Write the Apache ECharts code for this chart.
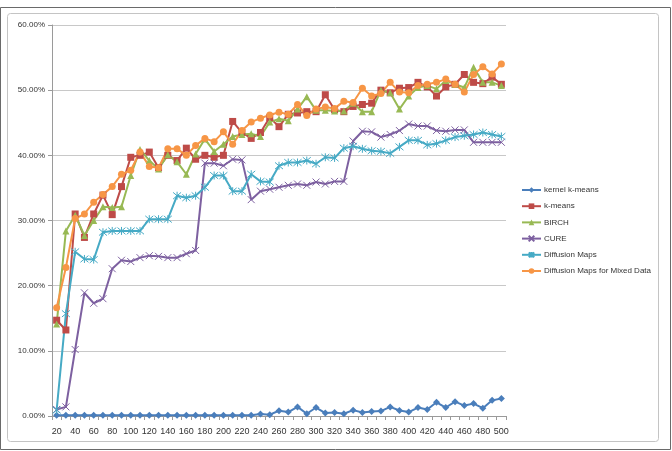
<!DOCTYPE html>
<html>
<head>
<meta charset="utf-8">
<script src="https://cdn.jsdelivr.net/npm/echarts@6/dist/echarts.min.js"></script>
<style>
  html, body { margin: 0; padding: 0; background: #fff; }
  #chart { width: 672px; height: 451px; }
</style>
</head>
<body>
<div id="chart"></div>
<script>
// x categories: 20 .. 500 by 10
var categories = ['20','30','40','50','60','70','80','90','100','110','120','130','140','150','160','170','180','190','200','210','220','230','240','250','260','270','280','290','300','310','320','330','340','350','360','370','380','390','400','410','420','430','440','450','460','470','480','490','500']

var yTicks = [0, 10, 20, 30, 40, 50, 60]

var kernelKmeans = [0.1,0.1,0.1,0.1,0.1,0.1,0.1,0.1,0.1,0.1,0.1,0.1,0.1,0.1,0.1,0.1,0.1,0.1,0.1,0.1,0.1,0.1,0.3,0.2,0.8,0.6,1.4,0.35,1.3,0.45,0.55,0.35,0.9,0.55,0.7,0.75,1.4,0.85,0.6,1.3,1.0,2.1,1.3,2.2,1.6,1.9,1.2,2.4,2.7]
var kmeans = [14.7,13.2,31.0,27.4,31.0,33.9,30.9,35.2,39.7,40.0,40.5,38.1,40.0,39.2,41.1,39.4,40.0,39.7,40.0,45.2,43.5,42.6,43.5,45.8,44.4,46.3,46.5,46.7,46.7,49.3,47.0,46.7,47.5,47.8,48.0,50.0,49.6,50.3,50.4,51.2,50.5,49.1,50.5,50.9,52.4,51.2,51.0,52.0,50.9]
var birch = [14.1,28.4,30.8,27.7,30.0,32.1,32.0,32.1,36.9,40.9,39.2,37.9,40.1,39.0,37.1,40.2,42.5,40.6,41.7,42.9,43.2,43.3,42.9,45.1,45.6,45.3,47.1,49.0,46.9,46.9,46.8,46.8,48.0,46.7,46.7,50.0,49.6,47.1,49.1,50.4,50.7,50.2,51.5,50.9,50.4,53.5,51.2,51.2,50.7]
var cure = [1.0,1.4,10.2,18.9,17.3,18.0,22.6,23.9,23.7,24.3,24.6,24.5,24.3,24.3,24.9,25.4,38.8,38.8,38.4,39.4,39.3,33.2,34.5,34.8,35.1,35.4,35.6,35.4,35.9,35.6,36.0,36.0,42.2,43.7,43.6,42.8,43.2,43.8,44.8,44.5,44.5,43.8,43.7,43.9,43.9,42.0,42.0,42.0,42.0]
var diffusionMaps = [0.9,15.7,25.2,24.1,24.0,28.2,28.4,28.4,28.4,28.4,30.2,30.2,30.2,33.8,33.5,33.8,35.1,36.9,36.9,34.5,34.5,37.1,36.0,35.9,38.4,38.9,38.9,39.2,38.7,39.7,39.6,41.1,41.4,41.0,40.7,40.6,40.3,41.3,42.3,42.3,41.6,41.8,42.3,42.8,43.0,43.2,43.5,43.2,42.9]
var diffusionMixed = [16.6,22.8,30.3,31.0,32.8,34.0,35.2,37.1,37.7,40.5,38.3,38.1,41.0,41.0,40.0,41.5,42.6,42.1,43.6,41.7,43.8,45.1,45.7,46.2,46.6,46.3,47.8,46.1,47.1,47.4,47.2,48.3,48.1,50.3,49.1,49.5,51.2,49.7,49.6,50.7,50.9,51.2,51.7,50.9,49.7,52.4,53.6,52.5,54.0]

var names = ['kernel k-means', 'k-means', 'BIRCH', 'CURE', 'Diffusion Maps', 'Diffusion Maps for Mixed Data']
var colors = ['#4a7ebb', '#be4b48', '#98b954', '#7d60a0', '#46aac5', '#f79646']
var symbols = [
  'diamond',
  'rect',
  'triangle',
  'path://M0,0L10,10M10,0L0,10',
  'path://M0,0L10,10M10,0L0,10M5,-1L5,11',
  'circle'
]
var sizes = [7, 7, 7, 7, 8, 7]
var seriesData = [kernelKmeans, kmeans, birch, cure, diffusionMaps, diffusionMixed]

function makeSeries (i) {
  var isPath = symbols[i].indexOf('path://') === 0
  return {
    name: names[i],
    type: 'line',
    data: seriesData[i],
    symbol: symbols[i],
    symbolSize: sizes[i],
    showAllSymbol: true,
    lineStyle: { color: colors[i], width: 2 },
    itemStyle: isPath
      ? { color: colors[i], borderColor: colors[i], borderWidth: 1 }
      : { color: colors[i], borderWidth: 0 },
    emphasis: { disabled: true },
    animation: false
  }
}

var chart = echarts.init(document.getElementById('chart'))
chart.setOption({
  animation: false,
  textStyle: { fontFamily: 'Liberation Sans, Arial, sans-serif' },
  graphic: [
    {
      type: 'rect',
      shape: { x: 0.5, y: 7.5, width: 670, height: 442 },
      style: { fill: 'none', stroke: '#6a6a6a', lineWidth: 1 },
      silent: true
    },
    {
      type: 'rect',
      shape: { x: 7.5, y: 13.5, width: 651, height: 428, r: 3 },
      style: { fill: 'none', stroke: '#c4c4c4', lineWidth: 1 },
      silent: true
    }
  ],
  legend: {
    orient: 'vertical',
    left: 516,
    top: 181,
    itemWidth: 19,
    itemHeight: 7,
    itemGap: 8.2,
    textStyle: { fontSize: 8, color: '#333', padding: [0, 0, 0, -2] },
    data: names
  },
  grid: { left: 52, right: 166, top: 25, bottom: 35 },
  xAxis: {
    type: 'category',
    boundaryGap: true,
    data: categories,
    axisLine: { lineStyle: { color: '#9a9a9a' } },
    axisTick: { show: true, interval: 0, length: 4, lineStyle: { color: '#9a9a9a' } },
    axisLabel: { interval: 1, fontSize: 9, color: '#333', margin: 11 },
    splitLine: { show: false }
  },
  yAxis: {
    type: 'value',
    min: yTicks[0],
    max: yTicks[yTicks.length - 1],
    interval: 10,
    axisLine: { show: true, lineStyle: { color: '#9a9a9a' } },
    axisTick: { show: true, length: 4, lineStyle: { color: '#9a9a9a' } },
    axisLabel: {
      fontSize: 8,
      color: '#333',
      margin: 7,
      formatter: function (v) { return v.toFixed(2) + '%' }
    },
    splitLine: { lineStyle: { color: '#c8c8c8', width: 1 } }
  },
  series: [0, 1, 2, 3, 4, 5].map(makeSeries)
})
</script>
</body>
</html>
